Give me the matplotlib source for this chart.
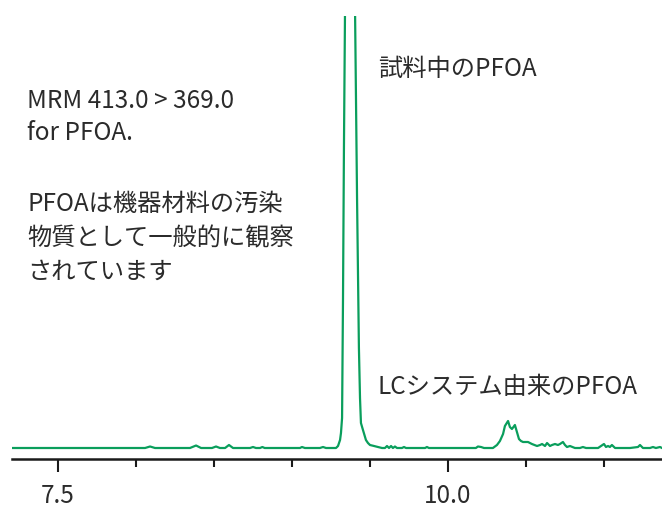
import matplotlib
matplotlib.use("Agg")
import matplotlib.pyplot as plt
from matplotlib.ticker import MultipleLocator, FixedLocator

plt.rcParams['font.family'] = ['Noto Sans CJK JP', 'DejaVu Sans']

# Retention time (min) and signal intensity (arbitrary units)
rt = [7.205, 8.058, 8.090, 8.122, 8.346, 8.385, 8.417, 8.487, 8.513, 8.538,
      8.571, 8.596, 8.622, 8.731, 8.750, 8.769, 8.795, 8.810, 8.825, 9.051,
      9.064, 9.083, 9.179, 9.199, 9.218, 9.282, 9.295, 9.308, 9.314, 9.321,
      9.327, 9.333, 9.340, 9.365, 9.391, 9.404, 9.417, 9.429, 9.436, 9.442,
      9.455, 9.474, 9.487, 9.500, 9.526, 9.551, 9.577, 9.596, 9.609, 9.622,
      9.635, 9.647, 9.660, 9.673, 9.705, 9.718, 9.731, 9.853, 9.865, 9.878,
      10.013, 10.179, 10.192, 10.212, 10.231, 10.288, 10.314, 10.333, 10.353, 10.365,
      10.385, 10.397, 10.410, 10.429, 10.442, 10.455, 10.468, 10.481, 10.500, 10.513,
      10.538, 10.571, 10.590, 10.603, 10.622, 10.635, 10.654, 10.667, 10.686, 10.705,
      10.718, 10.737, 10.750, 10.763, 10.782, 10.814, 10.846, 10.865, 10.885, 10.929,
      10.962, 10.981, 11.000, 11.013, 11.026, 11.038, 11.051, 11.071, 11.103, 11.167,
      11.218, 11.231, 11.250, 11.295, 11.314, 11.333, 11.359, 11.372]
intensity = [0, 0, 1.5, 0, 0, 2.5, 0, 0, 1.5, 0,
             0, 3, 0, 0, 1, 0, 0, 1, 0, 0,
             1, 0, 0, 1, 0, 0, 2, 8, 15, 30,
             150, 300, 440, 700, 500, 440, 250, 100, 50, 25,
             18, 8, 5, 3, 2, 1, 0, 0, 2, 0,
             2, 0, 1.5, 0, 0, 1, 0, 0, 1, 0,
             0, 0, 1.5, 1, 0, 0, 3, 7, 14, 22,
             27, 21, 19, 23, 16, 9, 7, 6, 6, 6,
             4, 2, 3, 4, 2, 5, 2, 3, 4, 3,
             4, 6, 3, 1, 2, 0, 0, 1, 0, 0,
             0, 2, 4, 1, 2, 1, 3, 0, 0, 0,
             1, 3, 0, 0, 1, 0, 1, 0]

major_ticks = [7.5, 10.0]
major_labels = ['7.5', '10.0']

W, H = 662, 507
fig = plt.figure(figsize=(W / 100, H / 100), dpi=100)
ax = fig.add_axes([12 / W, (H - 459) / H, 650 / W, 443 / H])

green = '#0a9e5c'
ax.plot(rt, intensity, color=green, lw=1.6, solid_joinstyle='round')
ax.set_xlim(7.205, 11.372)
ax.set_ylim(-11, 432)

for s in ['top', 'right', 'left']:
    ax.spines[s].set_visible(False)
ax.spines['bottom'].set_color('#1a1a1a')
ax.spines['bottom'].set_linewidth(1.8)
ax.set_yticks([])

ax.xaxis.set_major_locator(FixedLocator(major_ticks))
ax.set_xticklabels(major_labels)
ax.xaxis.set_minor_locator(MultipleLocator(0.5))
ax.tick_params(axis='x', which='major', length=9.5, width=1.5, color='#1a1a1a',
               labelsize=17.5, labelcolor='#2b2b2b', pad=7.5)
ax.tick_params(axis='x', which='minor', length=5.5, width=1.5, color='#1a1a1a')

txt = dict(fontsize=17.5, color='#2b2b2b', ha='left', va='baseline')

def ftext(x, y, s):
    fig.text(x / W, 1 - y / H, s, **txt)

ftext(27, 108, 'MRM 413.0 > 369.0')
ftext(27, 140, 'for PFOA.')
ftext(27, 211, 'PFOAは機器材料の汚染')
ftext(27, 245, '物質として一般的に観察')
ftext(27, 279, 'されています')
ftext(378, 76, '試料中のPFOA')
ftext(378, 394, 'LCシステム由来のPFOA')

fig.savefig('out.png', dpi=100)
